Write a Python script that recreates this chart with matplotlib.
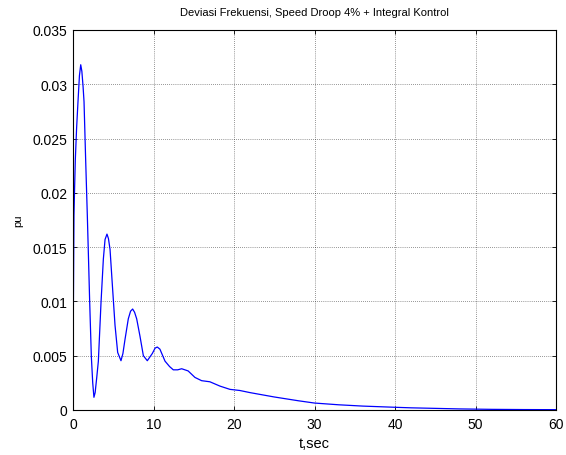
import matplotlib
matplotlib.use("Agg")
import matplotlib.pyplot as plt

t = [0.0, 0.02, 0.06, 0.12, 0.2, 0.29, 0.45, 0.62, 0.8, 0.96, 1.1, 1.25, 1.37, 1.57,
     1.78, 1.95, 2.07, 2.28, 2.45, 2.6, 2.75, 2.95, 3.15, 3.48, 3.77, 3.98, 4.22,
     4.4, 4.6, 4.89, 5.22, 5.55, 5.96, 6.2, 6.46, 6.87, 7.15, 7.41, 7.65, 7.91, 8.32,
     8.74, 9.23, 9.85, 10.2, 10.47, 10.8, 11.43, 12.0, 12.46, 13.0, 13.5, 14.3,
     15.15, 15.98, 17.0, 18.26, 19.5, 20.7, 22.0, 25.0, 28.0, 30.0, 33.0, 36.0,
     40.0, 42.0, 45.0, 48.0, 52.0, 56.0, 60.0]
dw = [0.0, 0.0065, 0.0110, 0.0179, 0.0205, 0.0231, 0.0260, 0.0284, 0.0308, 0.0318,
      0.0312, 0.0298, 0.0284, 0.0231, 0.0179, 0.0133, 0.0100, 0.0049, 0.0025,
      0.00117, 0.0016, 0.0030, 0.0045, 0.0099, 0.0139, 0.0157, 0.0162, 0.0158,
      0.0148, 0.0115, 0.0078, 0.0053, 0.00454, 0.0052, 0.0065, 0.0084, 0.0091,
      0.0093, 0.0090, 0.0084, 0.0068, 0.0050, 0.00454, 0.0052, 0.0057, 0.0058,
      0.0056, 0.0045, 0.0040, 0.0037, 0.0037, 0.0038, 0.0036, 0.0030, 0.0027,
      0.0026, 0.0022, 0.0019, 0.0018, 0.0016, 0.0012, 0.00085, 0.00064, 0.00048,
      0.00036, 0.00025, 0.0002, 0.00015, 0.0001, 0.00006, 0.00004, 0.00003]

xticks = [0, 10, 20, 30, 40, 50, 60]
yticks = [0, 0.005, 0.01, 0.015, 0.02, 0.025, 0.03, 0.035]
ytick_labels = ["0", "0.005", "0.01", "0.015", "0.02", "0.025", "0.03", "0.035"]

plt.rcParams['font.family'] = ['Liberation Sans', 'DejaVu Sans']
fig = plt.figure(figsize=(5.66, 4.56), dpi=100)
ax = fig.add_axes([73/566, 1-411/456, (556-73)/566, (411-31)/456])
ax.plot(t, dw, color='#0000ff', lw=0.9)
ax.set_xlim(0, 60)
ax.set_ylim(0, 0.035)
ax.set_xticks(xticks)
ax.set_xticklabels([str(v) for v in xticks])
ax.set_yticks(yticks)
ax.set_yticklabels(ytick_labels)
ax.grid(True, color='black', linestyle=(0, (1, 2)), linewidth=0.5, alpha=0.8)
ax.tick_params(direction='in', top=True, right=True, labelsize=10, length=3, width=0.6)
ax.tick_params(axis='x', pad=5)
ax.tick_params(axis='y', pad=4)
for s in ax.spines.values():
    s.set_linewidth(0.8)
ax.set_xlabel('t,sec', fontsize=10.5, labelpad=4)
ax.set_ylabel('pu', fontsize=8, labelpad=7)
ax.set_title('Deviasi Frekuensi, Speed Droop 4% + Integral Kontrol', fontsize=8, pad=11)
fig.savefig('out.png', dpi=100)
